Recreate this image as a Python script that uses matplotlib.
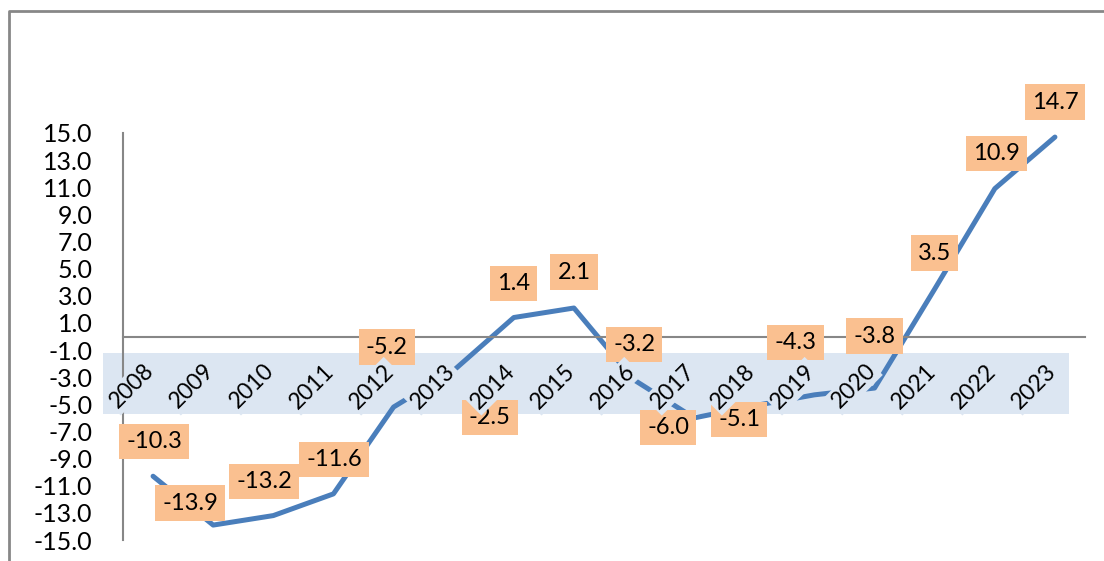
import numpy as np
import matplotlib
matplotlib.use('Agg')
import matplotlib.pyplot as plt
from matplotlib.patches import Rectangle
from matplotlib.lines import Line2D
from matplotlib.ticker import FormatStrFormatter
from matplotlib.transforms import ScaledTranslation

plt.rcParams['font.family'] = ['Lato', 'DejaVu Sans']

# data
years = ['2008', '2009', '2010', '2011', '2012', '2013', '2014', '2015',
         '2016', '2017', '2018', '2019', '2020', '2021', '2022', '2023']
values = [-10.3, -13.9, -13.2, -11.6, -5.2, -2.5, 1.4, 2.1,
          -3.2, -6.0, -5.1, -4.3, -3.8, 3.5, 10.9, 14.7]

# label offsets (pixels from the point), as placed in the original
offsets = [(1, 35), (-23, 22), (-9, 34), (1, 34), (-7, 60), (36, -47),
           (0, 34), (0, 36), (0, 35), (-26, -10), (-15, -14),
           (-19, 52), (0, 52), (0, 36), (2, 35), (0, 35)]

line_col = '#4A7EBB'
box_col = '#FAC090'
band_col = '#DCE6F2'
axis_col = '#878787'

W, H = 1104, 561
fig = plt.figure(figsize=(W / 100, H / 100), dpi=100)
ax = fig.add_axes([123 / W, 1 - 540 / H, 962 / W, 407 / H])
ax.patch.set_visible(False)

# spine position first: it resets the ticks
for s in ['top', 'right']:
    ax.spines[s].set_visible(False)
ax.spines['bottom'].set_position(('data', 0))
for s in ['left', 'bottom']:
    ax.spines[s].set_color(axis_col)
    ax.spines[s].set_linewidth(1.5)

x = np.arange(len(years))
ax.plot(x, values, color=line_col, lw=3.6, solid_capstyle='round', zorder=2)

for i, v in enumerate(values):
    dx, dy = offsets[i]
    ax.annotate(f'{v:.1f}', xy=(i, v), xytext=(dx, dy), textcoords='offset pixels',
                ha='center', va='center', fontsize=17, zorder=3,
                bbox=dict(boxstyle='square,pad=0.3', fc=box_col, ec='none'))

# light blue band behind the category labels
ax.add_patch(Rectangle((103 / W, 1 - 414 / H), 966 / W, 61 / H,
                       transform=fig.transFigure, fc=band_col, ec='none',
                       clip_on=False, zorder=1))

ax.set_xlim(-0.5, len(years) - 0.5)
ax.set_ylim(-15, 15)
ax.set_yticks(np.arange(-15, 16, 2))
ax.yaxis.set_major_formatter(FormatStrFormatter('%.1f'))
ax.set_xticks(x)
ax.set_xticklabels(years, rotation=45, ha='right', va='top')

ax.tick_params(axis='y', length=0, pad=22, labelsize=18)
ax.tick_params(axis='x', length=0, pad=17, labelsize=16.5)
shift = ScaledTranslation(5 / 100, 0, fig.dpi_scale_trans)
for lbl in ax.get_xticklabels():
    lbl.set_bbox(dict(boxstyle='square,pad=0.1', fc=band_col, ec='none'))
    lbl.set_transform(lbl.get_transform() + shift)
ax.xaxis.set_zorder(4)

# outer frame of the chart area
fig.add_artist(Line2D([9 / W, 9 / W, 1], [0, 1 - 11 / H, 1 - 11 / H],
                      color=axis_col, lw=2, transform=fig.transFigure))

fig.savefig('out.png', dpi=100)
